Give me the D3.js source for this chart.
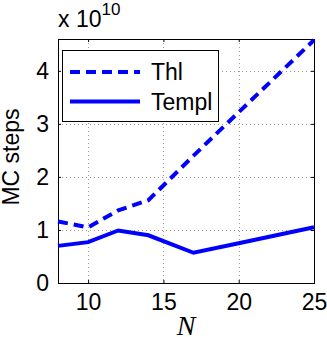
<!DOCTYPE html>
<html>
<head>
<meta charset="utf-8">
<script src="https://cdn.jsdelivr.net/npm/d3@7"></script>
<style>
  body { margin: 0; background: #fff; }
  svg text { font-family: "Liberation Sans", Arial, sans-serif; fill: #000; }
</style>
</head>
<body>
<svg id="chart" width="327" height="337"></svg>
<script>
'use strict';

// data (values in units of 1e10)
const nValues = [8, 10, 12, 14, 17, 20, 25];
const thlSteps = [1.16, 1.05, 1.37, 1.56, 2.40, 3.22, 4.58];
const templSteps = [0.70, 0.77, 0.99, 0.90, 0.57, 0.75, 1.05];
const xTicks = [10, 15, 20, 25];
const yTicks = [0, 1, 2, 3, 4];
const seriesNames = ["Thl", "Templ"];

const W = 327, H = 337;
const M = { top: 39, right: 13, bottom: 54, left: 58 };
const BLUE = "#0000ff";
const FONT = 23;

const svg = d3.select("#chart");

const x = d3.scaleLinear().domain([8, 25]).range([M.left, W - M.right]);
const y = d3.scaleLinear().domain([0, 4.6]).range([H - M.bottom, M.top]);

const plotW = W - M.left - M.right;
const plotH = H - M.top - M.bottom;

// dotted grid
const grid = svg.append("g")
    .attr("stroke", "#9a9a9a")
    .attr("stroke-width", 1)
    .attr("stroke-dasharray", "1,3");

grid.selectAll(".gx")
    .data(xTicks.filter(d => d < 25))
    .join("line")
    .attr("x1", d => Math.round(x(d)) + 0.5)
    .attr("x2", d => Math.round(x(d)) + 0.5)
    .attr("y1", M.top)
    .attr("y2", H - M.bottom);

grid.selectAll(".gy")
    .data(yTicks.filter(d => d > 0))
    .join("line")
    .attr("y1", d => Math.round(y(d)) + 0.5)
    .attr("y2", d => Math.round(y(d)) + 0.5)
    .attr("x1", M.left)
    .attr("x2", W - M.right);

// axes: ticks inward on all sides
const tickLen = 3;
const xAxis = d3.axisBottom(x).tickValues(xTicks).tickFormat(d3.format("d"))
    .tickSizeInner(-tickLen).tickSizeOuter(0).tickPadding(11);
const yAxis = d3.axisLeft(y).tickValues(yTicks).tickFormat(d3.format("d"))
    .tickSizeInner(-tickLen).tickSizeOuter(0).tickPadding(9);

const gx = svg.append("g")
    .attr("transform", `translate(0,${H - M.bottom})`)
    .call(xAxis);
gx.select(".domain").remove();
gx.selectAll("text")
    .attr("font-size", FONT)
    .attr("dy", "0.71em");

const gy = svg.append("g")
    .attr("transform", `translate(${M.left},0)`)
    .call(yAxis);
gy.select(".domain").remove();
gy.selectAll("text")
    .attr("font-size", FONT);

// top and right ticks
svg.append("g").call(d3.axisTop(x).tickValues(xTicks).tickSizeInner(-tickLen).tickSizeOuter(0).tickFormat(""))
    .attr("transform", `translate(0,${M.top})`)
    .select(".domain").remove();
svg.append("g").call(d3.axisRight(y).tickValues(yTicks).tickSizeInner(-tickLen).tickSizeOuter(0).tickFormat(""))
    .attr("transform", `translate(${W - M.right},0)`)
    .select(".domain").remove();

// box
svg.append("rect")
    .attr("x", M.left + 0.5)
    .attr("y", M.top + 0.5)
    .attr("width", plotW)
    .attr("height", plotH)
    .attr("fill", "none")
    .attr("stroke", "#000")
    .attr("stroke-width", 1);

// lines
const line = d3.line().x((d, i) => x(nValues[i])).y(d => y(d));

svg.append("path")
    .datum(thlSteps)
    .attr("d", line)
    .attr("fill", "none")
    .attr("stroke", BLUE)
    .attr("stroke-width", 4)
    .attr("stroke-dasharray", "10,6");

svg.append("path")
    .datum(templSteps)
    .attr("d", line)
    .attr("fill", "none")
    .attr("stroke", BLUE)
    .attr("stroke-width", 4);

// legend
const legend = svg.append("g");
legend.append("rect")
    .attr("x", 62.5).attr("y", 50.5)
    .attr("width", 156).attr("height", 71)
    .attr("fill", "#fff")
    .attr("stroke", "#000")
    .attr("stroke-width", 1);

const legendRows = [
    { name: seriesNames[0], dash: "10,6", y: 72 },
    { name: seriesNames[1], dash: null, y: 101.5 }
];
legendRows.forEach(r => {
    legend.append("line")
        .attr("x1", 70).attr("x2", 140)
        .attr("y1", r.y).attr("y2", r.y)
        .attr("stroke", BLUE)
        .attr("stroke-width", 4)
        .attr("stroke-dasharray", r.dash);
    legend.append("text")
        .attr("x", 151)
        .attr("y", r.y + 8)
        .attr("font-size", FONT)
        .text(r.name);
});

// exponent label
const expo = svg.append("text")
    .attr("x", 58)
    .attr("y", 27)
    .attr("font-size", FONT);
expo.append("tspan").text("x 10");
expo.append("tspan").attr("dy", -12).attr("font-size", 17).text("10");

// axis labels
svg.append("text")
    .attr("transform", `translate(19,${M.top + plotH / 2 - 4}) rotate(-90)`)
    .attr("text-anchor", "middle")
    .attr("font-size", FONT)
    .text("MC steps");

svg.append("text")
    .attr("x", M.left + plotW / 2)
    .attr("y", 335)
    .attr("text-anchor", "middle")
    .style("font-family", "'Liberation Serif', 'Times New Roman', serif")
    .style("font-style", "italic")
    .attr("font-size", 28)
    .text("N");
</script>
</body>
</html>
